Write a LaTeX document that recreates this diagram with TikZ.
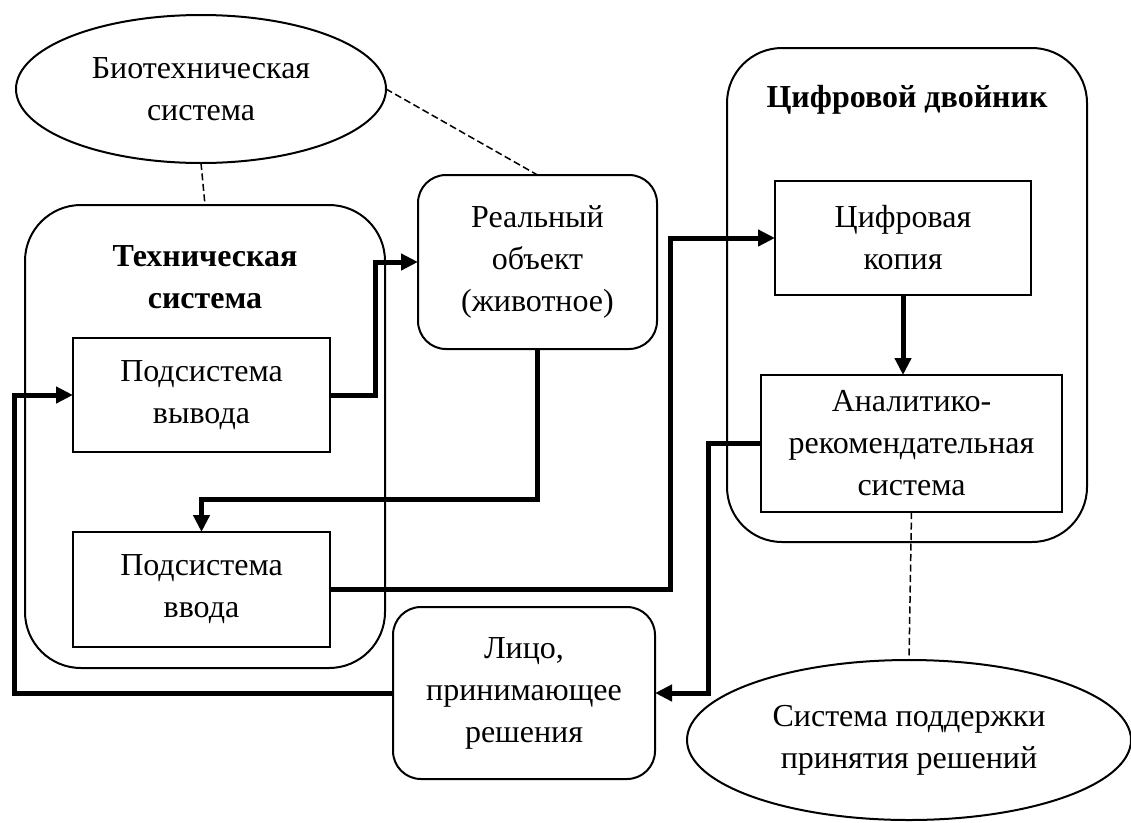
\documentclass[tikz,border=0pt]{standalone}
\usepackage{fontspec}
\setmainfont{Liberation Serif}
\usetikzlibrary{arrows.meta,shapes.geometric}
\newcommand{\fsz}{\fontsize{32}{42}\selectfont}
\tikzset{
  every node/.style={inner sep=0pt, outer sep=0pt, align=center, font=\fsz},
  plainbox/.style={draw, line width=2pt, fill=white},
  roundbox/.style={draw, line width=2pt, rounded corners=28pt, fill=white},
  container/.style={draw, line width=2pt, rounded corners=56pt},
  ellnode/.style={draw, line width=2pt, ellipse},
  flow/.style={line width=5pt, line join=miter, -{Triangle[length=17pt,width=16pt]}},
  dashline/.style={line width=1.5pt, dash pattern=on 7pt off 3.5pt},
  boldlabel/.style={font=\fsz\bfseries}
}
\begin{document}
\begin{tikzpicture}[x=1pt,y=-1pt]
\useasboundingbox (0,0) rectangle (1131,822);
% containers
\node[container, minimum width=360pt, minimum height=463pt] (tech) at (205,436.5) {};
\node[boldlabel] (techlabel) at (205,277) {Техническая\\система};
\node[container, minimum width=360pt, minimum height=494pt, rounded corners=55pt] (dt) at (907,295) {};
\node[boldlabel, anchor=base] (dtlabel) at (907,107) {Цифровой двойник};
% ellipses
\node[ellnode, minimum width=370pt, minimum height=148pt] (ell1) at (201,89) {Биотехническая\\система};
\node[ellnode, minimum width=444pt, minimum height=160pt] (ell2) at (909,740) {Система поддержки\\принятия решений};
% boxes
\node[plainbox, minimum width=257pt, minimum height=114pt] (vyvod) at (201.5,395) {Подсистема\\вывода};
\node[plainbox, minimum width=257pt, minimum height=115pt] (vvod) at (201.5,589.5) {Подсистема\\ввода};
\node[roundbox, minimum width=239pt, minimum height=174pt] (real) at (537.5,262) {Реальный\\объект\\(животное)};
\node[plainbox, minimum width=256pt, minimum height=114pt] (kopiya) at (903,238) {Цифровая\\копия};
\node[plainbox, minimum width=301pt, minimum height=137pt] (analit) at (911.5,443.5) {Аналитико-\\рекомендательная\\система};
\node[roundbox, minimum width=262pt, minimum height=172pt] (lico) at (524,693) {Лицо,\\принимающее\\решения};
% dashed relations
\draw[dashline] (ell1.south) -- (tech.north);
\draw[dashline] (ell1.east) -- (real.north);
\draw[dashline] (analit.south) -- (ell2.north);
% flows
\draw[flow] (vyvod.east) -- ++(45,0) |- (real.west);
\draw[flow] (real.south) -- ++(0,150) -| (vvod.north);
\draw[flow] (vvod.east) -- ++(340,0) |- (kopiya.west);
\draw[flow] (kopiya.south) -- (kopiya.south |- analit.north);
\draw[flow] (analit.west) -- ++(-53,0) |- (lico.east);
\draw[flow] (lico.west) -- ++(-379,0) |- (vyvod.west);
\end{tikzpicture}
\end{document}
